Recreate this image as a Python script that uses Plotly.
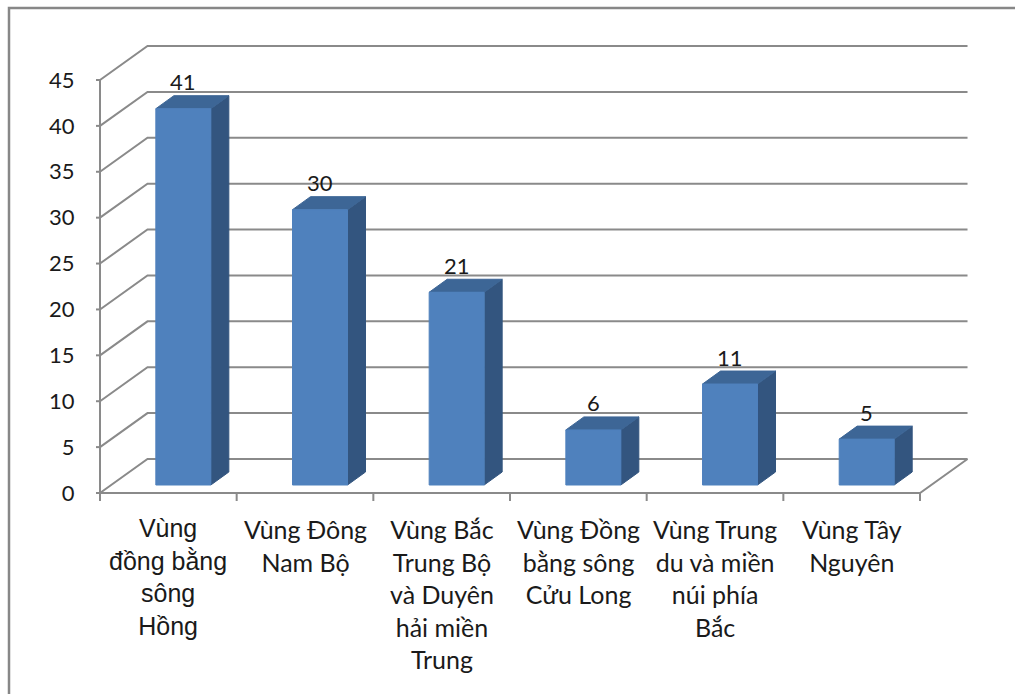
import plotly.graph_objects as go

# ---- data -------------------------------------------------------------
categories = [
    "Vùng<br>đồng bằng<br>sông<br>Hồng",
    "Vùng Đông<br>Nam Bộ",
    "Vùng Bắc<br>Trung Bộ<br>và Duyên<br>hải miền<br>Trung",
    "Vùng Đồng<br>bằng sông<br>Cửu Long",
    "Vùng Trung<br>du và miền<br>núi phía<br>Bắc",
    "Vùng Tây<br>Nguyên",
]
values = [41, 30, 21, 6, 11, 5]
y_ticks = [0, 5, 10, 15, 20, 25, 30, 35, 40, 45]

# ---- pseudo-3D geometry (pixel sizes converted to axis units) ---------
FIG_W, FIG_H = 1015, 694
CAT_PX = 136.67          # width of one category slot
UNIT_PX = 9.178          # pixels per value unit
FRONT_X_PX, FLOOR_Y_PX = 100, 493
PLOT_L, PLOT_R, PLOT_T, PLOT_B = 96, 985, 30, 503

n = len(categories)
x_lo = -0.5 - (FRONT_X_PX - PLOT_L) / CAT_PX
x_hi = -0.5 + (PLOT_R - FRONT_X_PX) / CAT_PX
y_lo = -(PLOT_B - FLOOR_Y_PX) / UNIT_PX
y_hi = (FLOOR_Y_PX - PLOT_T) / UNIT_PX

wall_dx, wall_dy = 47.5 / CAT_PX, 34 / UNIT_PX      # depth of walls / floor
bar_ox, bar_oy = 15 / CAT_PX, 8 / UNIT_PX           # bar front face offset
bar_hw = 27.5 / CAT_PX                              # half width of bar face
bar_dx, bar_dy = 18 / CAT_PX, 13 / UNIT_PX          # bar depth

GRID = "#8a8a8a"
FONT = "Lato, 'Noto Sans', sans-serif"
TXT = "#1a1a1a"

fig = go.Figure()

# walls: left-wall diagonals, back-wall gridlines and y tick marks
gx, gy = [], []
for v in y_ticks:
    gx += [-0.5, -0.5 + wall_dx, n - 0.5 + wall_dx, None]
    gy += [v, v + wall_dy, v + wall_dy, None]
    gx += [-0.5 - 7 / CAT_PX, -0.5, None]
    gy += [v, v, None]
# front y axis line
gx += [-0.5, -0.5, None]
gy += [0, y_ticks[-1], None]
# floor front edge and right edge
gx += [-0.5, n - 0.5, n - 0.5 + wall_dx, None]
gy += [0, 0, wall_dy, None]
# category boundary ticks
for k in range(n + 1):
    gx += [-0.5 + k, -0.5 + k, None]
    gy += [0, -8 / UNIT_PX, None]

fig.add_trace(go.Scatter(x=gx, y=gy, mode="lines",
                         line=dict(color=GRID, width=2),
                         hoverinfo="skip", showlegend=False))

# bars: side, top and front faces
side_x, side_y, top_x, top_y, front_x, front_y = [], [], [], [], [], []
for i, v in enumerate(values):
    xc = i + bar_ox
    xl, xr = xc - bar_hw, xc + bar_hw
    yb, yt = bar_oy, v + bar_oy
    side_x += [xr, xr + bar_dx, xr + bar_dx, xr, xr, None]
    side_y += [yb, yb + bar_dy, yt + bar_dy, yt, yb, None]
    top_x += [xl, xr, xr + bar_dx, xl + bar_dx, xl, None]
    top_y += [yt, yt, yt + bar_dy, yt + bar_dy, yt, None]
    front_x += [xl, xr, xr, xl, xl, None]
    front_y += [yb, yb, yt, yt, yb, None]

for fx, fy, col in [(side_x, side_y, "#33557f"),
                    (top_x, top_y, "#3d6696"),
                    (front_x, front_y, "#4f81bd")]:
    fig.add_trace(go.Scatter(x=fx, y=fy, mode="lines", fill="toself",
                             fillcolor=col, line=dict(color=col, width=1),
                             hoverinfo="skip", showlegend=False))

# value labels above each bar
for i, v in enumerate(values):
    fig.add_annotation(x=i + bar_ox, y=v + bar_oy + bar_dy, text=str(v),
                       showarrow=False, yanchor="middle", yshift=14,
                       font=dict(family=FONT, size=22, color=TXT))

# category labels under the floor
for i, name in enumerate(categories):
    fam = "'Liberation Sans', Arial, sans-serif" if i == 0 else FONT
    fig.add_annotation(x=i, y=0, yref="paper", text=name, showarrow=False,
                       xanchor="center", yanchor="top", yshift=-9,
                       align="center",
                       font=dict(family=fam, size=25, color=TXT))

# outer chart border (left and top edges visible)
def px_to_paper_x(px):
    return (px - PLOT_L) / (PLOT_R - PLOT_L)

def px_to_paper_y(py):
    return (PLOT_B - py) / (PLOT_B - PLOT_T)

fig.add_shape(type="rect", xref="paper", yref="paper",
              x0=px_to_paper_x(9), x1=px_to_paper_x(FIG_W + 20),
              y0=px_to_paper_y(FIG_H + 20), y1=px_to_paper_y(8),
              line=dict(color="#878787", width=2.5), fillcolor="rgba(0,0,0,0)")

fig.update_layout(
    width=FIG_W, height=FIG_H,
    margin=dict(l=PLOT_L, r=FIG_W - PLOT_R, t=PLOT_T, b=FIG_H - PLOT_B),
    paper_bgcolor="white", plot_bgcolor="white",
    showlegend=False,
    xaxis=dict(range=[x_lo, x_hi], visible=False, fixedrange=True),
    yaxis=dict(range=[y_lo, y_hi], tickvals=y_ticks,
               ticktext=[str(t) for t in y_ticks],
               showgrid=False, zeroline=False, showline=False,
               ticks="outside", ticklen=10, tickcolor="rgba(0,0,0,0)",
               ticklabelstandoff=6,
               tickfont=dict(family=FONT, size=22, color=TXT),
               fixedrange=True),
)

fig.write_html("out.html")
